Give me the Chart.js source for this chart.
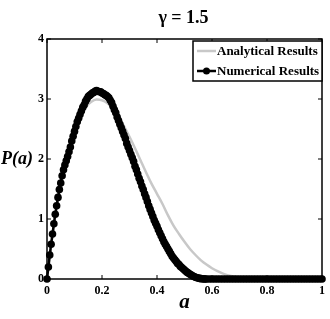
<!DOCTYPE html>
<html lang="en">
<head>
    <meta charset="UTF-8">
    <title>P(a), gamma = 1.5</title>
    <script src="https://cdnjs.cloudflare.com/ajax/libs/Chart.js/4.4.1/chart.umd.min.js"></script>
    <style>
        html, body { margin: 0; padding: 0; background: #fff; }
        #wrap { width: 330px; height: 319px; }
    </style>
</head>
<body>
    <div id="wrap"><canvas id="pChart" width="330" height="319"></canvas></div>

    <script>
        // Numerical results (black, dotted)
        const aNum = [
            0, 0.005, 0.01, 0.015, 0.02, 0.025, 0.03, 0.035, 0.04, 0.045,
            0.05, 0.055, 0.06, 0.065, 0.07, 0.075, 0.08, 0.085, 0.09, 0.095,
            0.1, 0.105, 0.11, 0.115, 0.12, 0.125, 0.13, 0.135, 0.14, 0.145,
            0.15, 0.155, 0.16, 0.165, 0.17, 0.175, 0.18, 0.185, 0.19, 0.195,
            0.2, 0.205, 0.21, 0.215, 0.22, 0.225, 0.23, 0.235, 0.24, 0.245,
            0.25, 0.255, 0.26, 0.265, 0.27, 0.275, 0.28, 0.285, 0.29, 0.295,
            0.3, 0.305, 0.31, 0.315, 0.32, 0.325, 0.33, 0.335, 0.34, 0.345,
            0.35, 0.355, 0.36, 0.365, 0.37, 0.375, 0.38, 0.385, 0.39, 0.395,
            0.4, 0.405, 0.41, 0.415, 0.42, 0.425, 0.43, 0.435, 0.44, 0.445,
            0.45, 0.455, 0.46, 0.465, 0.47, 0.475, 0.48, 0.485, 0.49, 0.495,
            0.5, 0.505, 0.51, 0.515, 0.52, 0.525, 0.53, 0.535, 0.54, 0.545,
            0.55, 0.555, 0.56, 0.565, 0.57, 0.575, 0.58,
            0.59, 0.6, 0.61, 0.62, 0.63, 0.64, 0.65, 0.66, 0.67, 0.68,
            0.69, 0.7, 0.71, 0.72, 0.73, 0.74, 0.75, 0.76, 0.77, 0.78,
            0.79, 0.8, 0.81, 0.82, 0.83, 0.84, 0.85, 0.86, 0.87, 0.88,
            0.89, 0.9, 0.91, 0.92, 0.93, 0.94, 0.95, 0.96, 0.97, 0.98,
            0.99, 1
        ];
        const pNum = [
            0, 0.2, 0.4, 0.58, 0.75, 0.92, 1.08, 1.22, 1.36, 1.49,
            1.6, 1.72, 1.82, 1.9, 1.97, 2.04, 2.12, 2.2, 2.3, 2.38,
            2.46, 2.54, 2.62, 2.68, 2.74, 2.8, 2.86, 2.9, 2.96, 3.0,
            3.04, 3.06, 3.08, 3.1, 3.11, 3.13, 3.14, 3.13, 3.12, 3.12,
            3.1, 3.09, 3.07, 3.06, 3.04, 3.02, 2.98, 2.94, 2.88, 2.82,
            2.77, 2.7, 2.64, 2.58, 2.52, 2.46, 2.4, 2.34, 2.26, 2.2,
            2.14, 2.08, 2.02, 1.96, 1.88, 1.82, 1.75, 1.68, 1.62, 1.55,
            1.49, 1.42, 1.36, 1.29, 1.22, 1.16, 1.1, 1.04, 0.98, 0.93,
            0.88, 0.82, 0.77, 0.72, 0.67, 0.62, 0.58, 0.54, 0.5, 0.46,
            0.42, 0.38, 0.35, 0.32, 0.29, 0.26, 0.24, 0.21, 0.19, 0.17,
            0.15, 0.13, 0.11, 0.095, 0.08, 0.065, 0.05, 0.04, 0.03, 0.022,
            0.015, 0.01, 0.006, 0.004, 0.002, 0.001, 0,
            0, 0, 0, 0, 0, 0, 0, 0, 0, 0,
            0, 0, 0, 0, 0, 0, 0, 0, 0, 0,
            0, 0, 0, 0, 0, 0, 0, 0, 0, 0,
            0, 0, 0, 0, 0, 0, 0, 0, 0, 0,
            0, 0
        ];

        // Analytical results (light grey line)
        const aAna = [
            0, 0.02, 0.04, 0.06, 0.08, 0.1, 0.12, 0.14, 0.16, 0.18,
            0.2, 0.22, 0.24, 0.26, 0.28, 0.3, 0.32, 0.34, 0.36, 0.38,
            0.4, 0.42, 0.44, 0.46, 0.48, 0.5, 0.52, 0.54, 0.56, 0.58,
            0.6, 0.62, 0.64, 0.66, 0.68, 0.7, 0.72, 0.74, 0.76, 0.78,
            0.8, 0.82, 0.84, 0.86, 0.88, 0.9, 0.92, 0.94, 0.96, 0.98, 1
        ];
        const pAna = [
            0, 0.72, 1.33, 1.78, 2.15, 2.47, 2.7, 2.86, 2.95, 2.99,
            2.98, 2.93, 2.84, 2.71, 2.55, 2.37, 2.18, 1.98, 1.78, 1.59,
            1.42, 1.25, 1.06, 0.89, 0.75, 0.62, 0.5, 0.4, 0.31, 0.24,
            0.18, 0.13, 0.09, 0.06, 0.04, 0.025, 0.015, 0.008, 0.004, 0.002,
            0, 0, 0, 0, 0, 0, 0, 0, 0, 0, 0
        ];

        const xTicks = [0, 0.2, 0.4, 0.6, 0.8, 1];
        const yTicks = [0, 1, 2, 3, 4];
        const titleText = 'γ = 1.5';
        const yTitle = 'P(a)';
        const xTitle = 'a';
        const seriesNames = ['Analytical Results', 'Numerical Results'];

        const serif = "'Liberation Serif', 'Times New Roman', serif";

        // frame, inward ticks, title, horizontal y title, legend box
        const decor = {
            id: 'decor',
            afterDraw(chart) {
                const { ctx, chartArea: ca, scales: { x, y } } = chart;
                ctx.save();
                ctx.strokeStyle = '#000';
                ctx.lineWidth = 1.5;
                ctx.strokeRect(ca.left, ca.top, ca.width, ca.height);

                ctx.beginPath();
                xTicks.forEach(v => {
                    const px = x.getPixelForValue(v);
                    ctx.moveTo(px, ca.bottom); ctx.lineTo(px, ca.bottom - 4);
                    ctx.moveTo(px, ca.top); ctx.lineTo(px, ca.top + 4);
                });
                yTicks.forEach(v => {
                    const py = y.getPixelForValue(v);
                    ctx.moveTo(ca.left, py); ctx.lineTo(ca.left + 4, py);
                    ctx.moveTo(ca.right, py); ctx.lineTo(ca.right - 4, py);
                });
                ctx.lineWidth = 1;
                ctx.stroke();

                ctx.fillStyle = '#000';
                ctx.textBaseline = 'middle';
                ctx.textAlign = 'center';
                ctx.font = 'bold 18px ' + serif;
                ctx.fillText(titleText, (ca.left + ca.right) / 2 - 1, 18);

                ctx.font = 'italic bold 18px ' + serif;
                ctx.fillText(yTitle, 17, 159);

                // legend
                const lx = 193, ly = 41, lw = ca.right - 193, lh = 40;
                ctx.fillStyle = '#fff';
                ctx.fillRect(lx, ly, lw, lh);
                ctx.lineWidth = 1.5;
                ctx.strokeRect(lx, ly, lw, lh);

                ctx.lineCap = 'butt';
                ctx.strokeStyle = '#c8c8c8';
                ctx.lineWidth = 2.5;
                ctx.beginPath(); ctx.moveTo(197, 51); ctx.lineTo(216, 51); ctx.stroke();

                ctx.strokeStyle = '#000';
                ctx.lineWidth = 2.5;
                ctx.beginPath(); ctx.moveTo(197, 71); ctx.lineTo(216, 71); ctx.stroke();
                ctx.fillStyle = '#000';
                ctx.beginPath(); ctx.arc(206.5, 71, 3.5, 0, Math.PI * 2); ctx.fill();

                ctx.textAlign = 'left';
                ctx.font = 'bold 13px ' + serif;
                ctx.fillText(seriesNames[0], 217, 52);
                ctx.fillText(seriesNames[1], 217, 72);
                ctx.restore();
            }
        };

        const ctx = document.getElementById('pChart').getContext('2d');
        new Chart(ctx, {
            type: 'scatter',
            data: {
                datasets: [
                    {
                        label: seriesNames[1],
                        data: aNum.map((a, i) => ({ x: a, y: pNum[i] })),
                        showLine: true,
                        borderColor: '#000',
                        borderWidth: 2.5,
                        backgroundColor: '#000',
                        pointRadius: 3.8,
                        pointBorderWidth: 0,
                        clip: false,
                        order: 0
                    },
                    {
                        label: seriesNames[0],
                        data: aAna.map((a, i) => ({ x: a, y: pAna[i] })),
                        showLine: true,
                        borderColor: '#c8c8c8',
                        borderWidth: 2.5,
                        pointRadius: 0,
                        cubicInterpolationMode: 'monotone',
                        order: 1
                    }
                ]
            },
            options: {
                responsive: false,
                animation: false,
                layout: { padding: { top: 39, right: 8, left: 0, bottom: 0 } },
                plugins: {
                    legend: { display: false },
                    tooltip: { enabled: false }
                },
                scales: {
                    x: {
                        type: 'linear',
                        min: 0, max: 1,
                        afterBuildTicks: s => { s.ticks = xTicks.map(v => ({ value: v })); },
                        afterFit: s => { s.height = 40; },
                        grid: { display: false, drawTicks: false },
                        border: { display: false },
                        ticks: {
                            color: '#000',
                            padding: 5,
                            maxRotation: 0,
                            font: { family: serif, size: 12, weight: 'bold' },
                            callback: v => String(v)
                        },
                        title: {
                            display: true,
                            text: xTitle,
                            color: '#000',
                            padding: { top: 0, bottom: 4 },
                            font: { family: serif, size: 21, weight: 'bold', style: 'italic' }
                        }
                    },
                    y: {
                        type: 'linear',
                        min: 0, max: 4,
                        afterBuildTicks: s => { s.ticks = yTicks.map(v => ({ value: v })); },
                        afterFit: s => { s.width = 47; },
                        grid: { display: false, drawTicks: false },
                        border: { display: false },
                        ticks: {
                            color: '#000',
                            padding: 3,
                            font: { family: serif, size: 12, weight: 'bold' }
                        }
                    }
                }
            },
            plugins: [decor]
        });
    </script>
</body>
</html>
